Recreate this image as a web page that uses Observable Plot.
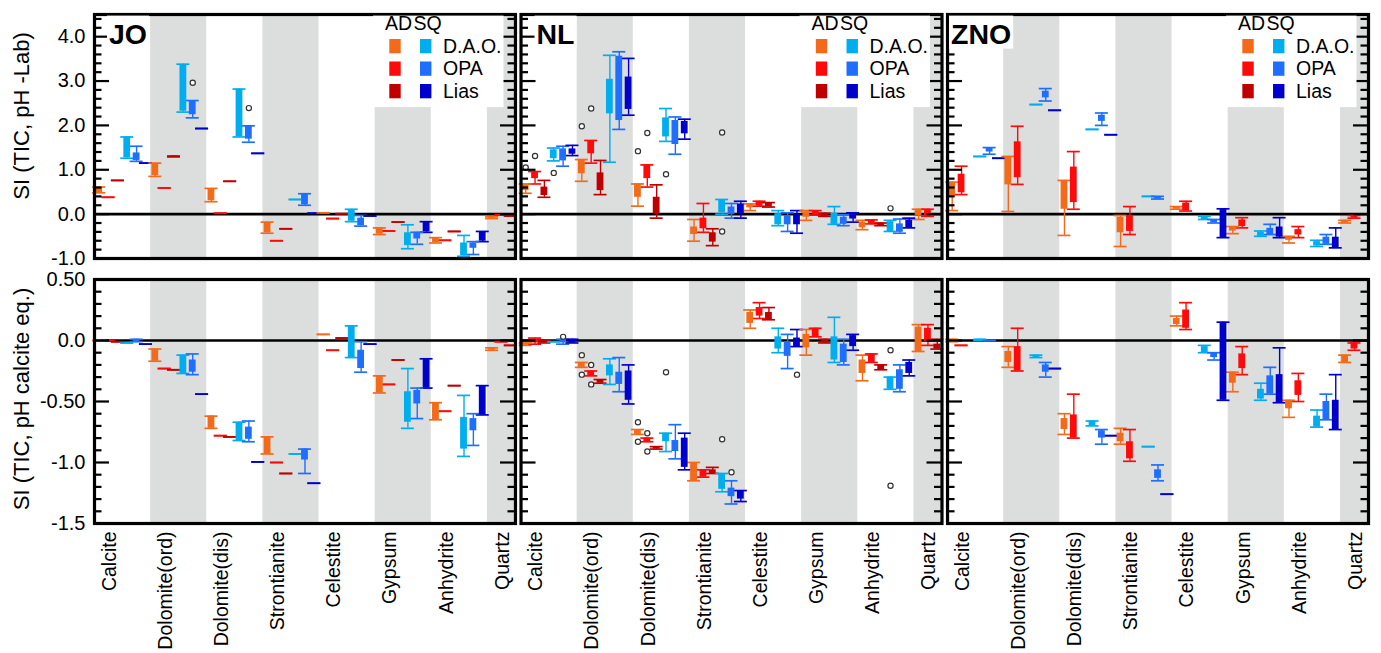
<!DOCTYPE html>
<html><head><meta charset="utf-8">
<script src="https://cdn.jsdelivr.net/npm/d3@7"></script>
<script src="https://cdn.jsdelivr.net/npm/@observablehq/plot@0.6"></script>
<style>
body{margin:0;background:#fff;font-family:"Liberation Sans",Arial,sans-serif;}
#wrap{position:relative;width:1381px;height:653px;overflow:hidden;background:#fff;}
#wrap > svg{display:block;}
#overlay{position:absolute;left:0;top:0;pointer-events:none;}
</style></head><body><div id="wrap"></div>
<script>
const sites = ["JO", "NL", "ZNO"];
const minerals = ["Calcite","Dolomite(ord)","Dolomite(dis)","Strontianite","Celestite","Gypsum","Anhydrite","Quartz"];
const seriesNames = ["D.A.O.","OPA","Lias"];
const groupNames = ["AD","SQ"];
const seriesColors = ["#F26A1A","#FF0A0A","#C00000","#00AEEF","#1E6EFF","#0000CC"];
const shadedBands = [1,3,5,7];
const rowTitles = ["SI (TIC, pH -Lab)","SI (TIC, pH calcite eq.)"];

// tick values & labels
const labMajor = [-1,0,1,2,3,4];
const labMajorLabels = ["-1.0","0.0","1.0","2.0","3.0","4.0"];
const labMinor = [-0.8,-0.6,-0.4,-0.2,0.2,0.4,0.6,0.8,1.2,1.4,1.6,1.8,2.2,2.4,2.6,2.8,3.2,3.4,3.6,3.8,4.2,4.4];
const calMajor = [-1.5,-1,-0.5,0,0.5];
const calMajorLabels = ["-1.5","-1.0","-0.50","0.0","0.50"];
const calMinor = [-1.4,-1.3,-1.2,-1.1,-0.9,-0.8,-0.7,-0.6,-0.4,-0.3,-0.2,-0.1,0.1,0.2,0.3,0.4];

// rows: [mineral, series, lo, q1, q3, hi] or [mineral, series, value]
// series: 0 AD D.A.O., 1 AD OPA, 2 AD Lias, 3 SQ D.A.O., 4 SQ OPA, 5 SQ Lias
const JO_lab = [
 [0,0,0.48,0.48,0.61,0.61],[0,1,0.38],[0,2,0.76],[0,3,1.26,1.27,1.73,1.74],[0,4,1.19,1.21,1.38,1.53],[0,5,1.15],
 [1,0,0.85,0.87,1.13,1.15],[1,1,0.59],[1,2,1.29,1.29,1.31,1.31],[1,3,2.30,2.32,3.37,3.38],[1,4,2.17,2.24,2.54,2.56],[1,5,1.93],
 [2,0,0.28,0.30,0.57,0.58],[2,1,0.02],[2,2,0.74],[2,3,1.74,1.75,2.81,2.82],[2,4,1.62,1.69,1.98,1.99],[2,5,1.37],
 [3,0,-0.43,-0.42,-0.19,-0.18],[3,1,-0.60],[3,2,-0.33],[3,3,0.33],[3,4,0.20,0.21,0.45,0.46],[3,5,0.02],
 [4,0,0.03],[4,1,-0.10],[4,2,0.01],[4,3,-0.17,-0.16,0.10,0.11],[4,4,-0.27,-0.26,-0.09,-0.03],[4,5,-0.04],
 [5,0,-0.46,-0.45,-0.32,-0.31],[5,1,-0.38],[5,2,-0.18],[5,3,-0.78,-0.71,-0.42,-0.24],[5,4,-0.68,-0.56,-0.41,-0.41],[5,5,-0.41,-0.40,-0.18,-0.17],
 [6,0,-0.65,-0.64,-0.54,-0.53],[6,1,-0.59],[6,2,-0.39],[6,3,-0.95,-0.94,-0.65,-0.48],[6,4,-0.91,-0.77,-0.65,-0.62],[6,5,-0.62,-0.61,-0.40,-0.39],
 [7,0,-0.10,-0.09,-0.07,-0.06],[7,1,-0.02],[7,2,-0.04]
];
const JO_lab_out = [[1,4,2.96],[2,4,2.39]];

const NL_lab = [
 [0,0,0.47,0.53,0.66,0.68],[0,1,0.68,0.80,0.95,0.96],[0,2,0.38,0.42,0.61,0.76],[0,3,1.20,1.25,1.45,1.49],[0,4,1.08,1.20,1.47,1.53],[0,5,1.32,1.35,1.47,1.55],
 [1,0,0.74,0.91,1.23,1.23],[1,1,1.15,1.36,1.66,1.66],[1,2,0.44,0.53,0.93,1.21],[1,3,1.17,2.26,3.04,3.58],[1,4,1.91,2.11,3.56,3.66],[1,5,2.23,2.36,3.09,3.51],
 [2,0,0.18,0.38,0.68,0.68],[2,1,0.61,0.80,1.11,1.11],[2,2,-0.09,0.0,0.38,0.66],[2,3,1.64,1.74,2.17,2.38],[2,4,1.35,1.57,2.11,2.19],[2,5,1.69,1.81,2.09,2.14],
 [3,0,-0.61,-0.46,-0.29,-0.12],[3,1,-0.41,-0.33,-0.09,0.24],[3,2,-0.71,-0.63,-0.42,-0.33],[3,3,0.0,0.03,0.33,0.33],[3,4,-0.09,-0.01,0.16,0.24],[3,5,-0.09,0.01,0.23,0.29],
 [4,0,0.08,0.14,0.23,0.23],[4,1,0.18,0.18,0.29,0.29],[4,2,0.16,0.16,0.25,0.26],[4,3,-0.26,-0.24,0.01,0.08],[4,4,-0.39,-0.24,-0.03,0.03],[4,5,-0.43,-0.24,-0.01,0.08],
 [5,0,-0.14,-0.07,0.05,0.08],[5,1,-0.02,-0.02,0.08,0.08],[5,2,-0.05,-0.05,0.02,0.02],[5,3,-0.23,-0.23,0.02,0.17],[5,4,-0.26,-0.23,-0.07,-0.01],[5,5,-0.18,-0.11,0.03,0.03],
 [6,0,-0.35,-0.31,-0.18,-0.14],[6,1,-0.22,-0.22,-0.13,-0.13],[6,2,-0.26,-0.26,-0.20,-0.20],[6,3,-0.39,-0.39,-0.17,-0.14],[6,4,-0.43,-0.41,-0.22,-0.11],[6,5,-0.31,-0.31,-0.13,-0.09],
 [7,0,-0.12,-0.03,0.11,0.11],[7,1,-0.05,-0.05,0.11,0.11]
];
const NL_lab_out = [[0,0,1.05],[0,1,1.31],[0,3,0.93],[1,0,1.98],[1,1,2.38],[2,0,1.42],[2,1,1.83],[2,3,0.90],[3,3,1.84],[3,3,-0.39],[6,3,0.13]];

const ZNO_lab = [
 [0,0,0.08,0.38,0.72,0.72],[0,1,0.44,0.48,0.90,1.08],[0,3,1.30],[0,4,1.35,1.40,1.50,1.50],[0,5,1.26],
 [1,0,0.06,0.66,1.30,1.30],[1,1,0.67,0.82,1.63,1.98],[1,3,2.47],[1,4,2.55,2.62,2.77,2.83],[1,5,2.34],
 [2,0,-0.48,0.11,0.76,0.76],[2,1,0.11,0.26,1.06,1.41],[2,3,1.91],[2,4,2.00,2.09,2.23,2.28],[2,5,1.79],
 [3,0,-0.73,-0.42,-0.07,-0.03],[3,1,-0.46,-0.39,-0.03,0.17],[3,3,0.40],[3,4,0.34,0.34,0.40,0.40],
 [4,0,0.11,0.11,0.17,0.17],[4,1,0.07,0.07,0.25,0.29],[4,3,-0.12,-0.12,-0.05,-0.05],[4,4,-0.20,-0.20,-0.12,-0.12],[4,5,-0.53,-0.53,0.12,0.12],
 [5,0,-0.44,-0.38,-0.28,-0.28],[5,1,-0.31,-0.28,-0.13,-0.08],[5,3,-0.50,-0.50,-0.41,-0.38],[5,4,-0.46,-0.46,-0.32,-0.23],[5,5,-0.53,-0.52,-0.29,-0.08],
 [6,0,-0.65,-0.59,-0.52,-0.50],[6,1,-0.53,-0.47,-0.35,-0.28],[6,3,-0.73,-0.72,-0.62,-0.59],[6,4,-0.68,-0.68,-0.52,-0.46],[6,5,-0.76,-0.76,-0.52,-0.31],
 [7,0,-0.20,-0.20,-0.14,-0.14],[7,1,-0.09,-0.09,-0.03,-0.03]
];
const ZNO_lab_out = [];

const JO_cal = [
 [0,0,0.0],[0,1,0.0],[0,2,-0.01],[0,3,-0.02],[0,4,-0.01,-0.01,0.01,0.01],[0,5,-0.03],
 [1,0,-0.17,-0.17,-0.07,-0.07],[1,1,-0.23],[1,2,-0.24],[1,3,-0.27,-0.27,-0.12,-0.12],[1,4,-0.28,-0.26,-0.16,-0.11],[1,5,-0.44],
 [2,0,-0.72,-0.72,-0.62,-0.62],[2,1,-0.78],[2,2,-0.79],[2,3,-0.82,-0.82,-0.67,-0.67],[2,4,-0.83,-0.81,-0.71,-0.66],[2,5,-0.995],
 [3,0,-0.93,-0.93,-0.79,-0.79],[3,1,-1.00],[3,2,-1.09],[3,3,-0.93],[3,4,-1.09,-0.98,-0.89,-0.89],[3,5,-1.17],
 [4,0,0.05],[4,1,-0.08],[4,2,0.02],[4,3,-0.14,-0.14,0.12,0.12],[4,4,-0.26,-0.23,-0.08,-0.01],[4,5,-0.03],
 [5,0,-0.43,-0.43,-0.29,-0.29],[5,1,-0.36],[5,2,-0.16],[5,3,-0.72,-0.67,-0.42,-0.23],[5,4,-0.64,-0.52,-0.41,-0.39],[5,5,-0.39,-0.39,-0.15,-0.15],
 [6,0,-0.65,-0.65,-0.51,-0.51],[6,1,-0.58],[6,2,-0.37],[6,3,-0.95,-0.89,-0.63,-0.45],[6,4,-0.86,-0.74,-0.64,-0.60],[6,5,-0.61,-0.61,-0.37,-0.37],
 [7,0,-0.08,-0.08,-0.06,-0.06],[7,1,-0.01],[7,2,-0.04]
];
const JO_cal_out = [];

const NL_cal = [
 [0,0,-0.04,-0.04,-0.02,-0.02],[0,1,-0.03,-0.02,0.01,0.02],[0,2,-0.02,-0.02,0.0,0.0],[0,3,-0.01],[0,4,-0.03,-0.02,0.01,0.01],[0,5,-0.02,-0.02,0.01,0.01],
 [1,0,-0.22,-0.22,-0.18,-0.18],[1,1,-0.29,-0.29,-0.25,-0.25],[1,2,-0.35,-0.35,-0.32,-0.32],[1,3,-0.36,-0.29,-0.20,-0.15],[1,4,-0.42,-0.36,-0.26,-0.14],[1,5,-0.52,-0.49,-0.25,-0.20],
 [2,0,-0.77,-0.77,-0.73,-0.73],[2,1,-0.83,-0.83,-0.80,-0.80],[2,2,-0.89,-0.89,-0.87,-0.87],[2,3,-0.91,-0.83,-0.76,-0.76],[2,4,-0.97,-0.91,-0.82,-0.69],[2,5,-1.06,-1.04,-0.80,-0.76],
 [3,0,-1.15,-1.15,-1.00,-1.00],[3,1,-1.12,-1.12,-1.06,-1.06],[3,2,-1.09,-1.09,-1.06,-1.04],[3,3,-1.24,-1.22,-1.09,-1.09],[3,4,-1.34,-1.28,-1.21,-1.15],[3,5,-1.32,-1.30,-1.23,-1.23],
 [4,0,0.10,0.14,0.23,0.25],[4,1,0.18,0.20,0.27,0.31],[4,2,0.17,0.17,0.23,0.27],[4,3,-0.10,-0.07,0.03,0.10],[4,4,-0.23,-0.13,-0.01,0.05],[4,5,-0.05,-0.05,0.02,0.09],
 [5,0,-0.12,-0.06,0.05,0.09],[5,1,0.03,0.03,0.10,0.10],[5,2,-0.02,-0.02,0.01,0.01],[5,3,-0.18,-0.16,0.03,0.19],[5,4,-0.20,-0.18,-0.03,0.01],[5,5,-0.08,-0.05,0.04,0.05],
 [6,0,-0.33,-0.27,-0.16,-0.12],[6,1,-0.18,-0.18,-0.11,-0.11],[6,2,-0.24,-0.24,-0.20,-0.20],[6,3,-0.40,-0.40,-0.30,-0.30],[6,4,-0.42,-0.40,-0.24,-0.20],[6,5,-0.29,-0.27,-0.18,-0.16],
 [7,0,-0.09,-0.09,0.11,0.13],[7,1,-0.04,-0.01,0.10,0.13],[7,2,-0.07,-0.07,-0.03,0.01]
];
const NL_cal_out = [[0,4,0.03],[1,0,-0.12],[1,0,-0.28],[1,1,-0.20],[1,1,-0.36],[2,0,-0.67],[2,0,-0.83],[2,1,-0.76],[2,1,-0.91],[2,3,-0.26],[3,3,-0.81],[3,4,-1.08],[4,5,-0.28],[6,3,-0.08],[6,3,-1.19]];

const ZNO_cal = [
 [0,0,-0.01,-0.01,0.01,0.01],[0,1,-0.04],[0,3,0.0,0.0,0.01,0.01],[0,4,0.0],
 [1,0,-0.22,-0.18,-0.09,-0.05],[1,1,-0.25,-0.25,-0.05,0.10],[1,3,-0.14,-0.14,-0.12,-0.12],[1,4,-0.30,-0.26,-0.20,-0.18],[1,5,-0.23],
 [2,0,-0.77,-0.73,-0.64,-0.60],[2,1,-0.80,-0.80,-0.61,-0.44],[2,3,-0.70,-0.70,-0.66,-0.66],[2,4,-0.85,-0.80,-0.74,-0.73],[2,5,-0.78],
 [3,0,-0.85,-0.83,-0.76,-0.72],[3,1,-0.99,-0.97,-0.83,-0.73],[3,3,-0.87],[3,4,-1.15,-1.13,-1.06,-1.02],[3,5,-1.26],
 [4,0,0.12,0.13,0.18,0.20],[4,1,0.09,0.10,0.25,0.31],[4,3,-0.10,-0.10,-0.05,-0.04],[4,4,-0.16,-0.14,-0.10,-0.10],[4,5,-0.49,-0.49,0.15,0.15],
 [5,0,-0.42,-0.35,-0.26,-0.26],[5,1,-0.28,-0.23,-0.11,-0.05],[5,3,-0.49,-0.48,-0.40,-0.35],[5,4,-0.44,-0.44,-0.29,-0.22],[5,5,-0.51,-0.51,-0.28,-0.06],
 [6,0,-0.63,-0.56,-0.49,-0.49],[6,1,-0.50,-0.45,-0.33,-0.27],[6,3,-0.71,-0.71,-0.62,-0.57],[6,4,-0.65,-0.65,-0.50,-0.44],[6,5,-0.73,-0.73,-0.49,-0.28],
 [7,0,-0.18,-0.18,-0.12,-0.12],[7,1,-0.08,-0.07,-0.02,-0.02]
];
const ZNO_cal_out = [];

// ---------- layout / style constants ----------
const W = 1381, ML = 94, MR = 13;
const XMAX = 7.5;
const FX_PAD = 0.013;
const plotW = W - ML - MR;
const bandW = plotW / (sites.length - FX_PAD) * (1 - FX_PAD);
const pxPerUnit = bandW / XMAX;
const CAP = 6.5 / pxPerUnit, BOX = 3.4 / pxPerUnit;
const FONT = '"Liberation Sans", Arial, Helvetica, sans-serif';

function expand(site, rows) {
  return rows.map(r => {
    const [m, k] = r; const v = r.slice(2);
    const [lo, q1, q3, hi] = v.length === 1 ? [v[0], v[0], v[0], v[0]] : v;
    return {fx: site, x: m + (k + 0.5) / 6, lo, q1, q3, hi, color: seriesColors[k]};
  });
}
function expandOut(site, rows) {
  return rows.map(([m, k, v]) => ({fx: site, x: m + (k + 0.5) / 6, v}));
}

function rowPlot({boxes, outs, yDomain, major, majorLabels, minor, height, marginTop, marginBottom, showLabels}) {
  const labelOf = new Map(major.map((d, i) => [d, majorLabels[i]]));
  const marks = [
    Plot.rect(shadedBands, {x1: d => d, x2: d => Math.min(d + 1, XMAX), y1: yDomain[0], y2: yDomain[1], fill: "#DCDDDD"}),
    Plot.ruleY([0], {stroke: "black", strokeWidth: 2.6}),
    Plot.ruleX(boxes, {fx: "fx", x: "x", y1: "lo", y2: "hi", stroke: "color", strokeWidth: 1.4}),
    Plot.ruleY(boxes, {fx: "fx", y: "lo", x1: d => d.x - CAP, x2: d => d.x + CAP, stroke: "color", strokeWidth: 1.7}),
    Plot.ruleY(boxes, {fx: "fx", y: "hi", x1: d => d.x - CAP, x2: d => d.x + CAP, stroke: "color", strokeWidth: 1.7}),
    Plot.rect(boxes, {fx: "fx", x1: d => d.x - BOX, x2: d => d.x + BOX, y1: "q1", y2: "q3", fill: "color"}),
    Plot.dot(outs, {fx: "fx", x: "x", y: "v", r: 2.6, stroke: "#333", strokeWidth: 1.2, fill: "white"}),
    Plot.tickY(major, {y: d => d, insetRight: bandW - 15, strokeWidth: 2.2, stroke: "black"}),
    Plot.tickY(major, {y: d => d, insetLeft: bandW - 15, strokeWidth: 2.2, stroke: "black"}),
    Plot.tickY(minor, {y: d => d, insetRight: bandW - 7.5, strokeWidth: 2.2, stroke: "black"}),
    Plot.tickY(minor, {y: d => d, insetLeft: bandW - 7.5, strokeWidth: 2.2, stroke: "black"}),
    Plot.frame({stroke: "black", strokeWidth: 3.2}),
    Plot.axisY(major, {anchor: "left", tickSize: 0, tickPadding: 9, fontSize: 20, label: null, tickFormat: d => labelOf.get(d), fill: "black"})
  ];
  if (showLabels) {
    marks.push(Plot.text(minerals, {x: (d, i) => i + 0.38, frameAnchor: "bottom", rotate: -90, textAnchor: "end", dy: 8, fontSize: 19.5, fill: "black"}));
  }
  return Plot.plot({
    width: W, height, marginLeft: ML, marginRight: MR, marginTop, marginBottom,
    fx: {domain: sites, paddingInner: FX_PAD, paddingOuter: 0, round: false, axis: null, label: null},
    x: {domain: [0, XMAX], axis: null},
    y: {domain: yDomain},
    color: {type: "identity"},
    style: {fontFamily: FONT, fontSize: "20px", background: "white", color: "black", overflow: "visible"},
    marks
  });
}

const labBoxes = [...expand("JO", JO_lab), ...expand("NL", NL_lab), ...expand("ZNO", ZNO_lab)];
const labOuts = [...expandOut("JO", JO_lab_out), ...expandOut("NL", NL_lab_out), ...expandOut("ZNO", ZNO_lab_out)];
const calBoxes = [...expand("JO", JO_cal), ...expand("NL", NL_cal), ...expand("ZNO", ZNO_cal)];
const calOuts = [...expandOut("JO", JO_cal_out), ...expandOut("NL", NL_cal_out), ...expandOut("ZNO", ZNO_cal_out)];

const TOP_H = 268;
const topChart = rowPlot({boxes: labBoxes, outs: labOuts, yDomain: [-1, 4.5], major: labMajor, majorLabels: labMajorLabels, minor: labMinor, height: TOP_H, marginTop: 14, marginBottom: 10, showLabels: false});
const bottomChart = rowPlot({boxes: calBoxes, outs: calOuts, yDomain: [-1.5, 0.5], major: calMajor, majorLabels: calMajorLabels, minor: calMinor, height: 653 - TOP_H, marginTop: 11, marginBottom: 130, showLabels: true});

const wrap = document.getElementById("wrap");
wrap.appendChild(topChart);
wrap.appendChild(bottomChart);

// ---------- overlay: titles, legends, panel labels ----------
const fxScale = topChart.scale("fx");
const ov = d3.select(wrap).append("svg").attr("id", "overlay").attr("width", W).attr("height", 653)
  .attr("font-family", FONT);

ov.append("text").attr("transform", "translate(29,116) rotate(-90)").attr("text-anchor", "middle")
  .attr("font-size", 22).attr("fill", "black").text(rowTitles[0]);
ov.append("text").attr("transform", "translate(29,399) rotate(-90)").attr("text-anchor", "middle")
  .attr("font-size", 22).attr("fill", "black").text(rowTitles[1]);

const panelLabelDx = {JO: 15, NL: 16, ZNO: 4};
sites.forEach(site => {
  const L = fxScale.apply(site);
  const g = ov.append("g").attr("transform", `translate(${L},0)`);
  g.append("rect").attr("x", 279).attr("y", 15.6).attr("width", 130.5).attr("height", 91.5).attr("fill", "white");
  g.append("text").attr("x", 291).attr("y", 30).attr("font-size", 19.5).attr("fill", "black").text(groupNames[0]);
  g.append("text").attr("x", 319.5).attr("y", 30).attr("font-size", 19.5).attr("fill", "black").text(groupNames[1]);
  seriesNames.forEach((name, r) => {
    const y0 = 39 + r * 22.5;
    g.append("rect").attr("x", 295.3).attr("y", y0).attr("width", 11.4).attr("height", 14.3).attr("fill", seriesColors[r]);
    g.append("rect").attr("x", 326).attr("y", y0).attr("width", 11.4).attr("height", 14.3).attr("fill", seriesColors[r + 3]);
    g.append("text").attr("x", 349).attr("y", 52.5 + r * 22.5).attr("font-size", 19.5).attr("fill", "black").text(name);
  });
  const t = g.append("text").attr("x", panelLabelDx[site]).attr("y", 43.5).attr("font-size", 28.5)
    .attr("font-weight", "bold").attr("fill", "black").text(site);
  const bb = t.node().getBBox();
  g.insert("rect", "text").attr("x", bb.x - 2).attr("y", 15.6).attr("width", bb.width + 4).attr("height", 33).attr("fill", "white");
});
</script></body></html>
